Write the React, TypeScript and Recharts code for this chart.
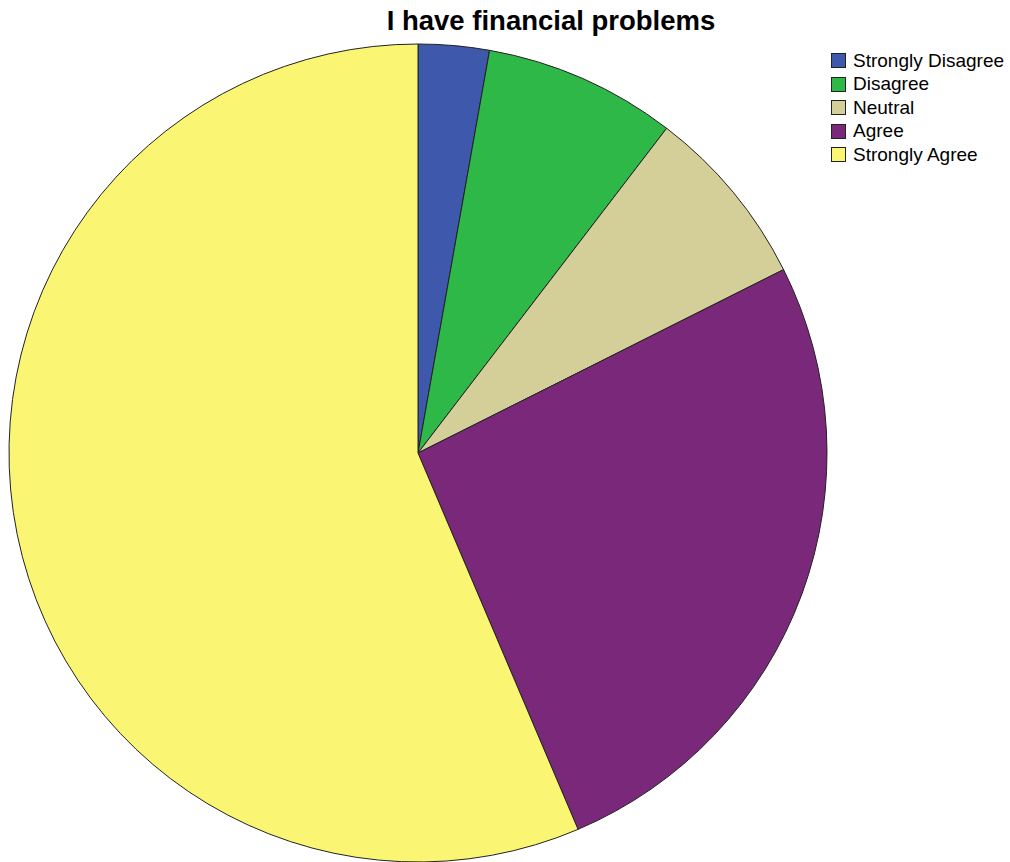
import React from 'react';
import { PieChart, Pie, Cell, Legend } from 'recharts';

const categorias = ['Strongly Disagree', 'Disagree', 'Neutral', 'Agree', 'Strongly Agree'];
const cantidades = [7, 19, 18, 65, 141];
const colores = ['#3E58AC', '#2EB848', '#D4CE99', '#7A2879', '#FAF572'];

const datos = categorias.map((nombre, i) => ({ nombre, valor: cantidades[i] }));

const LeyendaSpss = () => (
  <div style={{ fontFamily: 'Liberation Sans, Arial, sans-serif', fontSize: 19, color: '#000' }}>
    {categorias.map((c, i) => (
      <div key={c} style={{ display: 'flex', alignItems: 'center', height: 23.5 }}>
        <span
          style={{
            display: 'inline-block',
            width: 13,
            height: 13,
            background: colores[i],
            border: '1px solid #222',
            marginRight: 7,
          }}
        />
        <span>{c}</span>
      </div>
    ))}
  </div>
);

const App = () => {
  return (
    <div style={{ position: 'absolute', left: 0, top: 0, width: 1010, height: 862, background: '#fff' }}>
      <div
        style={{
          position: 'absolute',
          left: 351,
          top: 5,
          width: 400,
          textAlign: 'center',
          fontFamily: 'Liberation Sans, Arial, sans-serif',
          fontWeight: 'bold',
          fontSize: 27.5,
          color: '#000',
          zIndex: 2,
        }}
      >
        I have financial problems
      </div>
      <PieChart width={1010} height={862} margin={{ top: 0, right: 0, bottom: 0, left: 0 }}>
        <Pie
          data={datos}
          dataKey="valor"
          nameKey="nombre"
          cx={418}
          cy={453}
          outerRadius={409}
          startAngle={90}
          endAngle={-270}
          stroke="#222"
          strokeWidth={1}
          isAnimationActive={false}
        >
          {datos.map((d, i) => (
            <Cell key={d.nombre} fill={colores[i]} />
          ))}
        </Pie>
        <Legend
          layout="vertical"
          content={<LeyendaSpss />}
          wrapperStyle={{ position: 'absolute', left: 831, top: 49, width: 180 }}
        />
      </PieChart>
    </div>
  );
};

export default App;
